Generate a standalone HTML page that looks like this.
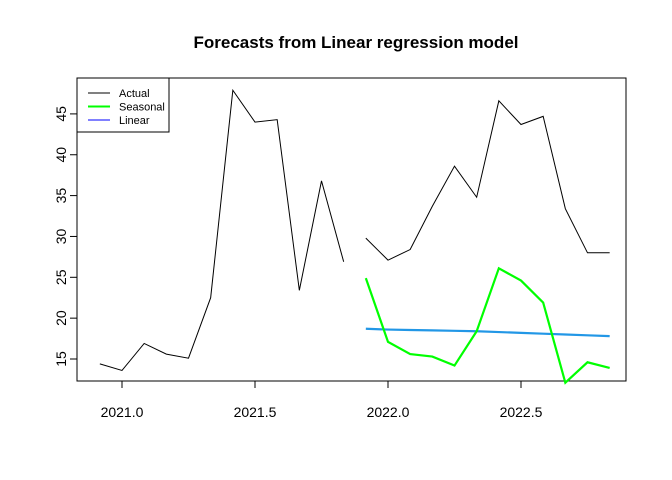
<!DOCTYPE html>
<html><head><meta charset="utf-8"><style>body{margin:0;background:#fff}svg{display:block;font-family:"Liberation Sans",Arial,sans-serif}</style></head>
<body>
<svg id="c" width="672" height="480"></svg>
<script>
const actual1 = [14.4,13.6,16.9,15.6,15.1,22.5,47.9,44.0,44.3,23.4,36.8,26.9];
const actual2 = [29.8,27.1,28.4,33.7,38.6,34.8,46.6,43.7,44.7,33.4,28.0,28.0];
const seasonal = [24.9,17.1,15.6,15.3,14.2,18.4,26.1,24.6,21.9,12.1,14.6,13.9];
const linear = [18.7,18.6,18.55,18.5,18.45,18.4,18.3,18.2,18.1,18.0,17.9,17.8];
const start1 = 2020 + 11/12, start2 = 2021 + 11/12;
const xTicks = [2021.0,2021.5,2022.0,2022.5];
const yTicks = [15,20,25,30,35,40,45];
const NS='http://www.w3.org/2000/svg', svg=document.getElementById('c');
const X=t=>122+(t-2021)*266, Y=v=>359-(v-15)*8.17;
function mk(tag,a,txt){const e=document.createElementNS(NS,tag);for(const k in a)e.setAttribute(k,a[k]);if(txt!=null)e.textContent=txt;svg.appendChild(e);return e;}
const t=mk('text',{x:356,y:48,'text-anchor':'middle','font-size':17,'font-weight':'bold'},'Forecasts from Linear regression model');


const box=mk('rect',{x:77,y:78,width:549,height:303,fill:'none',stroke:'#000'});


xTicks.forEach(v=>{const l=mk('line',{x1:X(v),x2:X(v),y1:381,y2:388,stroke:'#000'});


const tx=mk('text',{x:X(v),y:417,'text-anchor':'middle','font-size':14},v.toFixed(1));

});
yTicks.forEach(v=>{const l=mk('line',{x1:70,x2:77,y1:Y(v),y2:Y(v),stroke:'#000'});


const tx=mk('text',{x:0,y:0,'text-anchor':'middle','font-size':14,transform:`translate(66,${Y(v)}) rotate(-90)`},v);

});
function line(arr,s,col,w,name){const p=mk('polyline',{points:arr.map((v,i)=>X(s+i/12)+','+Y(v)).join(' '),fill:'none',stroke:col,'stroke-width':w});

}
line(actual1,start1,'#000',1,'actual-line-history');
line(actual2,start2,'#000',1,'actual-line-test');
line(linear,start2,'#2297e6',2.2,'linear-forecast-line');
line(seasonal,start2,'#00ff00',2.2,'seasonal-forecast-line');
const lg=mk('rect',{x:77,y:78,width:92,height:54,fill:'#fff',stroke:'#000'});


[['Actual','#000',1],['Seasonal','#00ff00',2],['Linear','#0000ff',1]].forEach((d,i)=>{const y=93+i*13.5;
const l=mk('line',{x1:88,x2:110,y1:y,y2:y,stroke:d[1],'stroke-width':d[2]});


const tx=mk('text',{x:119,y:y+4,'font-size':11},d[0]);

});
</script>
</body></html>
